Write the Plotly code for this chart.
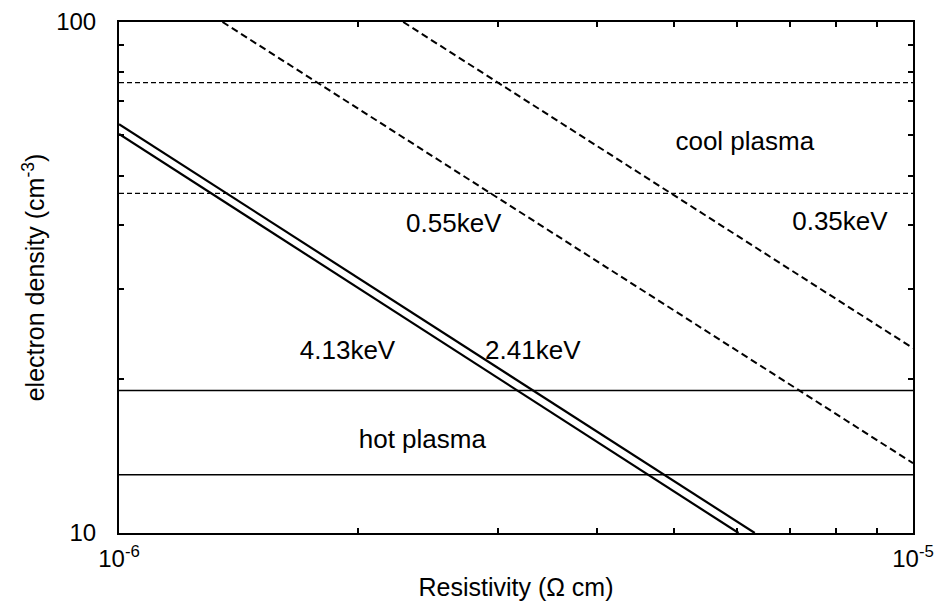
import plotly.graph_objects as go

# ---- data (resistivity in ohm cm, density in cm^-3) ----
line_413_x = [1.0e-6, 6.32e-6]
line_413_y = [63.1, 10.0]
line_241_x = [1.0e-6, 6.03e-6]
line_241_y = [60.4, 10.0]
line_055_x = [1.35e-6, 1.0e-5]
line_055_y = [100.0, 13.7]
line_035_x = [2.28e-6, 1.0e-5]
line_035_y = [100.0, 23.0]

cool_levels = [76.1, 46.2]   # dashed horizontal bounds (cool plasma)
hot_levels = [19.0, 13.0]    # solid horizontal bounds (hot plasma)
x_span = [1.0e-6, 1.0e-5]

label_text = ["cool plasma", "0.55keV", "0.35keV", "4.13keV", "2.41keV", "hot plasma"]
label_x = [6.14e-6, 2.64e-6, 8.09e-6, 1.94e-6, 3.32e-6, 2.41e-6]
label_y = [57.9, 39.9, 40.3, 22.6, 22.6, 15.1]

x_tickvals = [1e-6, 1e-5]
x_ticktext = ["10<sup>-6</sup>", "10<sup>-5</sup>"]
x_minor = [2e-6, 3e-6, 4e-6, 5e-6, 6e-6, 7e-6, 8e-6, 9e-6]
y_tickvals = [10, 100]
y_ticktext = ["10", "100"]
y_minor = [20, 30, 40, 50, 60, 70, 80, 90]

FONT = "Liberation Sans, Arial, Helvetica, sans-serif"
fig = go.Figure()

for lvl in cool_levels:
    fig.add_trace(go.Scatter(x=x_span, y=[lvl, lvl], mode="lines",
                             line=dict(color="black", width=1.2, dash="5px,3px"),
                             showlegend=False, hoverinfo="skip"))
for lvl in hot_levels:
    fig.add_trace(go.Scatter(x=x_span, y=[lvl, lvl], mode="lines",
                             line=dict(color="black", width=1.5),
                             showlegend=False, hoverinfo="skip"))

for name, xs, ys in [("4.13keV", line_413_x, line_413_y), ("2.41keV", line_241_x, line_241_y)]:
    fig.add_trace(go.Scatter(x=xs, y=ys, mode="lines", name=name,
                             line=dict(color="black", width=2.2),
                             showlegend=False, hoverinfo="skip"))
for name, xs, ys in [("0.55keV", line_055_x, line_055_y), ("0.35keV", line_035_x, line_035_y)]:
    fig.add_trace(go.Scatter(x=xs, y=ys, mode="lines", name=name,
                             line=dict(color="black", width=2.0, dash="7px,4px"),
                             showlegend=False, hoverinfo="skip"))

fig.add_trace(go.Scatter(x=label_x, y=label_y, text=label_text, mode="text",
                         textposition="middle center",
                         textfont=dict(family=FONT, size=26, color="black"),
                         showlegend=False, hoverinfo="skip", cliponaxis=False))

axis_common = dict(type="log", showgrid=False, zeroline=False, showline=True,
                   linecolor="black", linewidth=2, mirror="ticks",
                   ticks="inside", ticklen=5, tickwidth=1.5, tickcolor="black",
                   tickfont=dict(family=FONT, size=24, color="black"))

fig.update_xaxes(range=[-6, -5], tickvals=x_tickvals, ticktext=x_ticktext,
                 minor=dict(tickvals=x_minor, ticks="inside", ticklen=5,
                            tickwidth=1.5, tickcolor="black", showgrid=False),
                 title=dict(text="Resistivity (Ω cm)", standoff=8,
                            font=dict(family=FONT, size=25, color="black")),
                 ticklabelstandoff=3, **axis_common)
fig.update_yaxes(range=[1, 2], tickvals=y_tickvals, ticktext=y_ticktext,
                 minor=dict(tickvals=y_minor, ticks="inside", ticklen=5,
                            tickwidth=1.5, tickcolor="black", showgrid=False),
                 title=dict(text="electron density (cm<sup>-3</sup>)", standoff=4,
                            font=dict(family=FONT, size=25, color="black")),
                 ticklabelstandoff=16, **axis_common)

fig.update_layout(width=941, height=610, paper_bgcolor="white", plot_bgcolor="white",
                  margin=dict(l=119, r=28, t=22, b=77, autoexpand=False),
                  showlegend=False)

fig.write_html("out.html", config={"displayModeBar": False},
               post_script="document.body.style.margin='0';")
